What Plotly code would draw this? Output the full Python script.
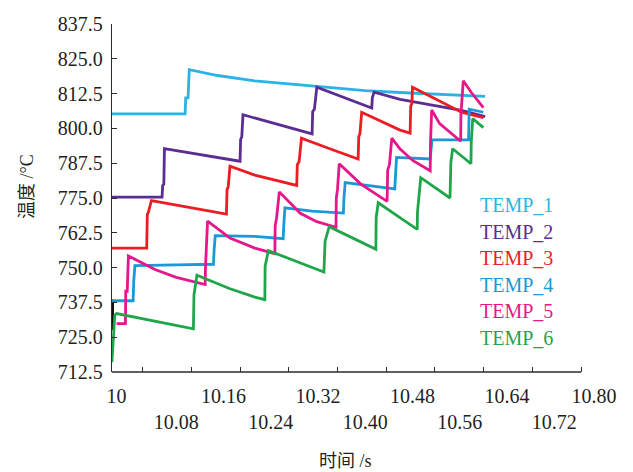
import plotly.graph_objects as go

# ---------------- data ----------------
series_names = ["TEMP_1", "TEMP_2", "TEMP_3", "TEMP_4", "TEMP_5", "TEMP_6"]

t1 = [9.971, 10.095, 10.096, 10.100, 10.102, 10.150, 10.213, 10.318, 10.400, 10.459, 10.530, 10.603]
v1 = [805.2, 805.2, 811.0, 811.0, 821.1, 819.0, 817.1, 815.0, 813.6, 812.9, 812.2, 811.5]

t2 = [9.971, 10.056, 10.057, 10.059, 10.060, 10.120, 10.188, 10.189, 10.191, 10.193, 10.250,
      10.310, 10.311, 10.314, 10.318, 10.411, 10.412, 10.415, 10.459, 10.563, 10.603]
v2 = [775.3, 775.3, 779.5, 780.0, 792.7, 790.5, 788.2, 796.0, 797.0, 804.9, 801.5,
      798.0, 806.0, 807.0, 814.8, 807.3, 811.0, 813.0, 810.4, 806.5, 804.2]

t3 = [9.971, 10.030, 10.031, 10.033, 10.038, 10.100, 10.165, 10.166, 10.168, 10.171, 10.213,
      10.284, 10.285, 10.288, 10.292, 10.340, 10.388, 10.389, 10.391, 10.394, 10.459, 10.476,
      10.477, 10.479, 10.480, 10.563, 10.600]
v3 = [757.0, 757.0, 769.0, 770.0, 774.1, 771.7, 769.2, 778.0, 779.0, 786.4, 783.2,
      779.5, 787.0, 788.0, 796.5, 792.7, 789.0, 797.0, 798.0, 805.8, 799.4, 798.3,
      808.0, 809.0, 814.8, 805.8, 803.9]

t4 = [9.971, 10.007, 10.008, 10.010, 10.080, 10.143, 10.144, 10.146, 10.213, 10.261, 10.262,
      10.264, 10.310, 10.363, 10.364, 10.366, 10.450, 10.451, 10.453, 10.510, 10.511, 10.513,
      10.575, 10.576, 10.600]
v4 = [738.1, 738.1, 745.0, 750.7, 751.0, 751.2, 756.0, 761.5, 761.2, 760.4, 765.0,
      771.5, 770.3, 769.6, 775.0, 780.5, 778.3, 784.0, 789.6, 789.0, 792.0, 795.9,
      795.9, 806.9, 805.8]

t5 = [9.979, 9.994, 9.9945, 9.997, 9.999, 10.044, 10.080, 10.129, 10.1295, 10.131, 10.133,
      10.171, 10.213, 10.247, 10.2475, 10.250, 10.2545, 10.290, 10.318, 10.3505, 10.351,
      10.353, 10.356, 10.392, 10.415, 10.437, 10.438, 10.441, 10.445, 10.459, 10.481, 10.510,
      10.5105, 10.5125, 10.526, 10.5616, 10.562, 10.566, 10.580, 10.600]
v5 = [729.9, 729.9, 741.5, 741.5, 754.2, 749.3, 746.5, 743.9, 750.0, 756.3, 766.7,
      760.6, 757.0, 755.0, 765.0, 768.0, 777.2, 769.5, 766.5, 764.5, 775.0,
      778.0, 787.3, 780.1, 776.8, 773.8, 785.0, 787.0, 796.5, 792.6, 788.4, 784.8,
      795.0, 806.6, 801.7, 795.4, 805.0, 817.1, 812.8, 807.5]

t6 = [9.971, 9.973, 9.975, 9.976, 9.979, 10.040, 10.109, 10.110, 10.115, 10.170, 10.213,
      10.230, 10.2305, 10.236, 10.280, 10.330, 10.332, 10.339, 10.380, 10.418, 10.4185,
      10.422, 10.455, 10.488, 10.4885, 10.494, 10.5435, 10.545, 10.548, 10.579, 10.5795,
      10.582, 10.600]
v6 = [716.0, 724.0, 727.0, 733.0, 733.5, 731.0, 728.0, 740.2, 747.3, 742.5, 739.4,
      738.5, 750.5, 756.1, 752.5, 748.4, 759.5, 764.7, 760.5, 756.6, 768.0,
      773.3, 768.5, 763.7, 770.1, 782.3, 775.0, 787.8, 792.7, 787.3, 795.0,
      803.5, 800.3]

# short black start-up segment at the left edge
t0 = [9.9725, 9.9725]
v0 = [738.5, 727.5]

x_label_values = [10.00, 10.08, 10.16, 10.24, 10.32, 10.40, 10.48, 10.56, 10.64, 10.72, 10.80]
x_tick_labels = ["10", "10.08", "10.16", "10.24", "10.32", "10.40", "10.48", "10.56", "10.64", "10.72", "10.80"]
y_tick_values = [712.5, 725.0, 737.5, 750.0, 762.5, 775.0, 787.5, 800.0, 812.5, 825.0, 837.5]

# ---------------- style / layout ----------------
colors = ["#2ab4e6", "#5b2d92", "#ec1c24", "#1b98d5", "#e5178c", "#1fa64a"]
SERIF = "Liberation Serif, Times New Roman, serif"
CJK = "Liberation Serif, Noto Sans CJK SC, serif"
AX = "#2b2b2b"
NB = "\u00a0"

W, H = 633, 472
ML, MR, MT, MB = 112, 21, 24, 100
PW, PH = W - ML - MR, H - MT - MB
PX_PER_S = 590.6          # pixels per second on x
ORIGIN_OFF = 17           # px from plot left edge to t = 10
xa = 10 - ORIGIN_OFF / PX_PER_S
xb = xa + PW / PX_PER_S
tick0 = 10 + 13.7 / PX_PER_S
dtick = 48.7 / PX_PER_S
last_tick = tick0 + 9 * dtick

series = [(t1, v1), (t2, v2), (t3, v3), (t4, v4), (t5, v5), (t6, v6)]

fig = go.Figure()
fig.add_trace(go.Scatter(x=t0, y=v0, mode="lines", line=dict(color="#111111", width=2.5),
                         showlegend=False, hoverinfo="skip"))
for (tt, vv), name, c in zip(series, series_names, colors):
    fig.add_trace(go.Scatter(x=tt, y=vv, mode="lines", name=name,
                             line=dict(color=c, width=2.8), showlegend=False))

# alternate rows; the end labels are nudged left like in the original
ticktext = []
for i, s in enumerate(x_tick_labels):
    if i == 0:
        s = s + NB * 5
    elif i == len(x_tick_labels) - 1:
        s = s + NB * 3
    ticktext.append(("<br>" + s) if i % 2 else s)

fig.update_layout(
    width=W, height=H,
    margin=dict(l=ML, r=MR, t=MT, b=MB, autoexpand=False),
    paper_bgcolor="white", plot_bgcolor="white",
    font=dict(family=SERIF, size=20, color="#231f20"),
    xaxis=dict(range=[xa, xb], tickmode="array", tickvals=x_label_values, ticktext=ticktext,
               tickangle=0, automargin=False, ticklabelstandoff=10,
               ticks="", showline=False, showgrid=False, zeroline=False,
               tickfont=dict(family=SERIF, size=20, color="#231f20"),
               minor=dict(ticks="inside", tickmode="linear", tick0=tick0, dtick=dtick,
                          ticklen=5, tickcolor=AX, tickwidth=1.3, showgrid=False)),
    yaxis=dict(range=[712.5, 837.5], tickmode="array", tickvals=y_tick_values,
               tickformat=".1f", ticks="inside", ticklen=5, tickcolor=AX, tickwidth=1.3,
               automargin=False, ticklabelstandoff=4,
               showline=True, linecolor=AX, linewidth=1.3, showgrid=False, zeroline=False,
               tickfont=dict(family=SERIF, size=20, color="#231f20")),
)

# bottom axis line (ends at the last tick mark)
fig.add_shape(type="line", xref="x", yref="paper", x0=xa, x1=last_tick, y0=0, y1=0,
              line=dict(color=AX, width=1.3))

# axis titles
fig.add_annotation(text="温度 /°C", xref="paper", yref="paper",
                   x=(27 - ML) / PW, y=(MT + PH - 187) / PH, textangle=-90,
                   showarrow=False, xanchor="center", yanchor="middle",
                   font=dict(family=CJK, size=18, color="#231f20"))
fig.add_annotation(text="时间 /s", xref="paper", yref="paper",
                   x=(345 - ML) / PW, y=(MT + PH - 461) / PH,
                   showarrow=False, xanchor="center", yanchor="middle",
                   font=dict(family=CJK, size=18, color="#231f20"))

# text legend
LEG_X, LEG_Y0, LEG_DY = 478, 205, 26.6
for i, (name, c) in enumerate(zip(series_names, colors)):
    fig.add_annotation(text=name, xref="paper", yref="paper",
                       x=(LEG_X - ML) / PW, y=(MT + PH - (LEG_Y0 + i * LEG_DY)) / PH,
                       showarrow=False, xanchor="left", yanchor="middle",
                       font=dict(family=SERIF, size=20, color=c))

fig.write_html("out.html", config={"displayModeBar": False},
               post_script="document.body.style.margin='0';document.body.style.overflow='hidden';")
